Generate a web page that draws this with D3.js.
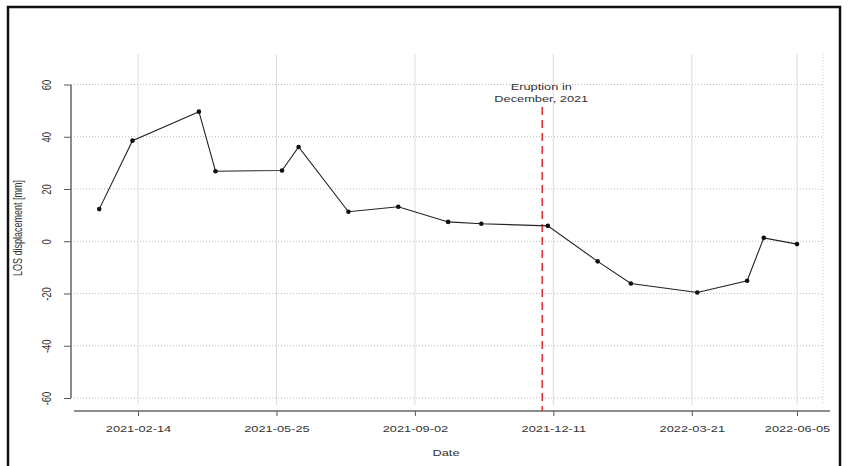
<!DOCTYPE html>
<html>
<head>
<meta charset="utf-8">
<script src="https://cdn.jsdelivr.net/npm/d3@7"></script>
<style>
  body { margin: 0; background: #fff; }
  svg { display: block; }
  text { font-family: "Liberation Sans", Arial, sans-serif; fill: #333; }
</style>
</head>
<body>
<div id="chart"></div>
<script>
// acquisition dates and LOS displacement (mm)
const dates = ["2021-01-17", "2021-02-10", "2021-03-30", "2021-04-11", "2021-05-29", "2021-06-10",
    "2021-07-16", "2021-08-21", "2021-09-26", "2021-10-20", "2021-12-07", "2022-01-12",
    "2022-02-05", "2022-03-25", "2022-04-30", "2022-05-12", "2022-06-05"];
const values = [12.3, 38.5, 49.6, 26.8, 27.1, 36.1, 11.3, 13.2, 7.4, 6.7, 5.9, -7.7,
    -16.2, -19.6, -15.1, 1.3, -1.1];
const xTicks = ["2021-02-14", "2021-05-25", "2021-09-02", "2021-12-11", "2022-03-21", "2022-06-05"];
const yTicks = [-60, -40, -20, 0, 20, 40, 60];
const eruptionDate = "2021-12-03";
const eruptionLabel = ["Eruption in", "December, 2021"];

const width = 848, height = 466;
const sx = 1.35; // picture is stretched horizontally
const parse = d3.utcParse("%Y-%m-%d");
const fmt = d3.utcFormat("%Y-%m-%d");

const data = dates.map((d, i) => ({ date: parse(d), value: values[i] }));

const svg = d3.select("#chart").append("svg")
    .attr("width", width)
    .attr("height", height);

// outer frame
svg.append("rect")
    .attr("x", 8).attr("y", 7)
    .attr("width", 832).attr("height", 475)
    .attr("fill", "none")
    .attr("stroke", "#111")
    .attr("stroke-width", 2.5);

const x = d3.scaleUtc()
    .domain([parse(xTicks[0]), parse(xTicks[xTicks.length - 1])])
    .range([138, 797]);

const y = d3.scaleLinear()
    .domain([-60, 60])
    .range([398, 84.5]);

const plotLeft = 74, plotRight = 823, plotTop = 54, plotBottom = 405;

// grid
svg.append("g")
    .selectAll("line")
    .data(yTicks)
    .join("line")
    .attr("x1", plotLeft).attr("x2", plotRight)
    .attr("y1", d => y(d)).attr("y2", d => y(d))
    .attr("stroke", "#bbb")
    .attr("stroke-dasharray", "1,2");

svg.append("g")
    .selectAll("line")
    .data(xTicks.map(parse))
    .join("line")
    .attr("x1", d => x(d)).attr("x2", d => x(d))
    .attr("y1", plotTop).attr("y2", plotBottom)
    .attr("stroke", "#dcdcdc");

svg.append("line")
    .attr("x1", plotRight).attr("x2", plotRight)
    .attr("y1", plotTop).attr("y2", plotBottom)
    .attr("stroke", "#ccc")
    .attr("stroke-dasharray", "1,2");

// X axis
const xAxis = svg.append("g")
    .attr("transform", "translate(0,411)")
    .call(d3.axisBottom(x)
        .tickValues(xTicks.map(parse))
        .tickFormat(fmt)
        .tickSize(5)
        .tickSizeOuter(0));
xAxis.select(".domain").remove();
xAxis.append("line")
    .attr("x1", plotLeft).attr("x2", 830)
    .attr("stroke", "#666")
    .attr("stroke-width", 1.5);
xAxis.selectAll(".tick line").attr("stroke", "#555");
xAxis.selectAll(".tick text")
    .attr("y", 0).attr("dy", null)
    .attr("transform", `translate(0,21) scale(${sx},1)`)
    .style("font-family", "Liberation Sans, Arial, sans-serif")
    .style("font-size", "9.5px")
    .attr("fill", "#333");

// Y axis
const yAxis = svg.append("g")
    .attr("transform", "translate(71,0)")
    .call(d3.axisLeft(y)
        .tickValues(yTicks)
        .tickFormat(d => String(d))
        .tickSize(7)
        .tickSizeOuter(0));
yAxis.select(".domain").remove();
yAxis.append("line")
    .attr("y1", y(-60)).attr("y2", y(60))
    .attr("stroke", "#666")
    .attr("stroke-width", 1.5);
yAxis.selectAll(".tick line").attr("stroke", "#555");
yAxis.selectAll(".tick text")
    .attr("x", 0).attr("y", 0).attr("dy", null)
    .attr("text-anchor", "middle")
    .attr("transform", `translate(-20,0) scale(${sx},1) rotate(-90)`)
    .style("font-family", "Liberation Sans, Arial, sans-serif")
    .style("font-size", "9.5px")
    .attr("fill", "#444");

// axis titles
svg.append("text")
    .attr("text-anchor", "middle")
    .attr("transform", `translate(446,456) scale(${sx},1)`)
    .style("font-size", "9.5px")
    .text("Date");

svg.append("text")
    .attr("text-anchor", "middle")
    .attr("transform", `translate(22,228) scale(${sx},1) rotate(-90)`)
    .style("font-size", "9px")
    .text("LOS displacement [mm]");

// eruption marker
const ex = x(parse(eruptionDate));
svg.append("line")
    .attr("x1", ex).attr("x2", ex)
    .attr("y1", 107).attr("y2", 411)
    .attr("stroke", "#e0303c")
    .attr("stroke-width", 1.6)
    .attr("stroke-dasharray", "8,5");

svg.append("g")
    .selectAll("text")
    .data(eruptionLabel)
    .join("text")
    .attr("text-anchor", "middle")
    .attr("transform", (d, i) => `translate(${ex - 1},${90 + i * 11.5}) scale(${sx},1)`)
    .style("font-size", "9.5px")
    .text(d => d);

// series
const line = d3.line()
    .x(d => x(d.date))
    .y(d => y(d.value));

svg.append("path")
    .datum(data)
    .attr("fill", "none")
    .attr("stroke", "#222")
    .attr("stroke-width", 1.1)
    .attr("d", line);

svg.selectAll(".pt")
    .data(data)
    .join("circle")
    .attr("class", "pt")
    .attr("cx", d => x(d.date))
    .attr("cy", d => y(d.value))
    .attr("r", 2.3)
    .attr("fill", "#111");
</script>
</body>
</html>
